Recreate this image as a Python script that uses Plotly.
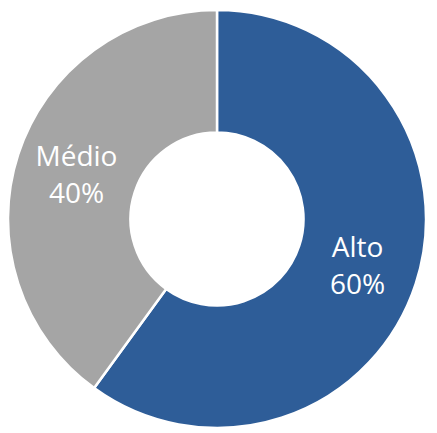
import plotly.graph_objects as go

# dados
niveis = ['Alto', 'Médio']
valores = [60, 40]
cores = ['#2E5D98', '#A5A5A5']

fig = go.Figure(go.Pie(
    labels=niveis,
    values=valores,
    hole=0.414,
    sort=False,
    direction='clockwise',
    rotation=0,
    marker=dict(colors=cores, line=dict(color='white', width=2.5)),
    texttemplate='%{label}<br>%{percent:.0%}',
    textposition='inside',
    insidetextorientation='horizontal',
    textfont=dict(family='Open Sans', size=28, color='white'),
    showlegend=False,
    # a página tem 8px de margem no body
    domain=dict(x=[0, 418 / 437], y=[13 / 433, 431 / 433]),
))

fig.update_layout(
    width=437, height=433,
    margin=dict(l=0, r=0, t=0, b=0),
    paper_bgcolor='white',
    plot_bgcolor='white',
)

fig.write_html("out.html")
